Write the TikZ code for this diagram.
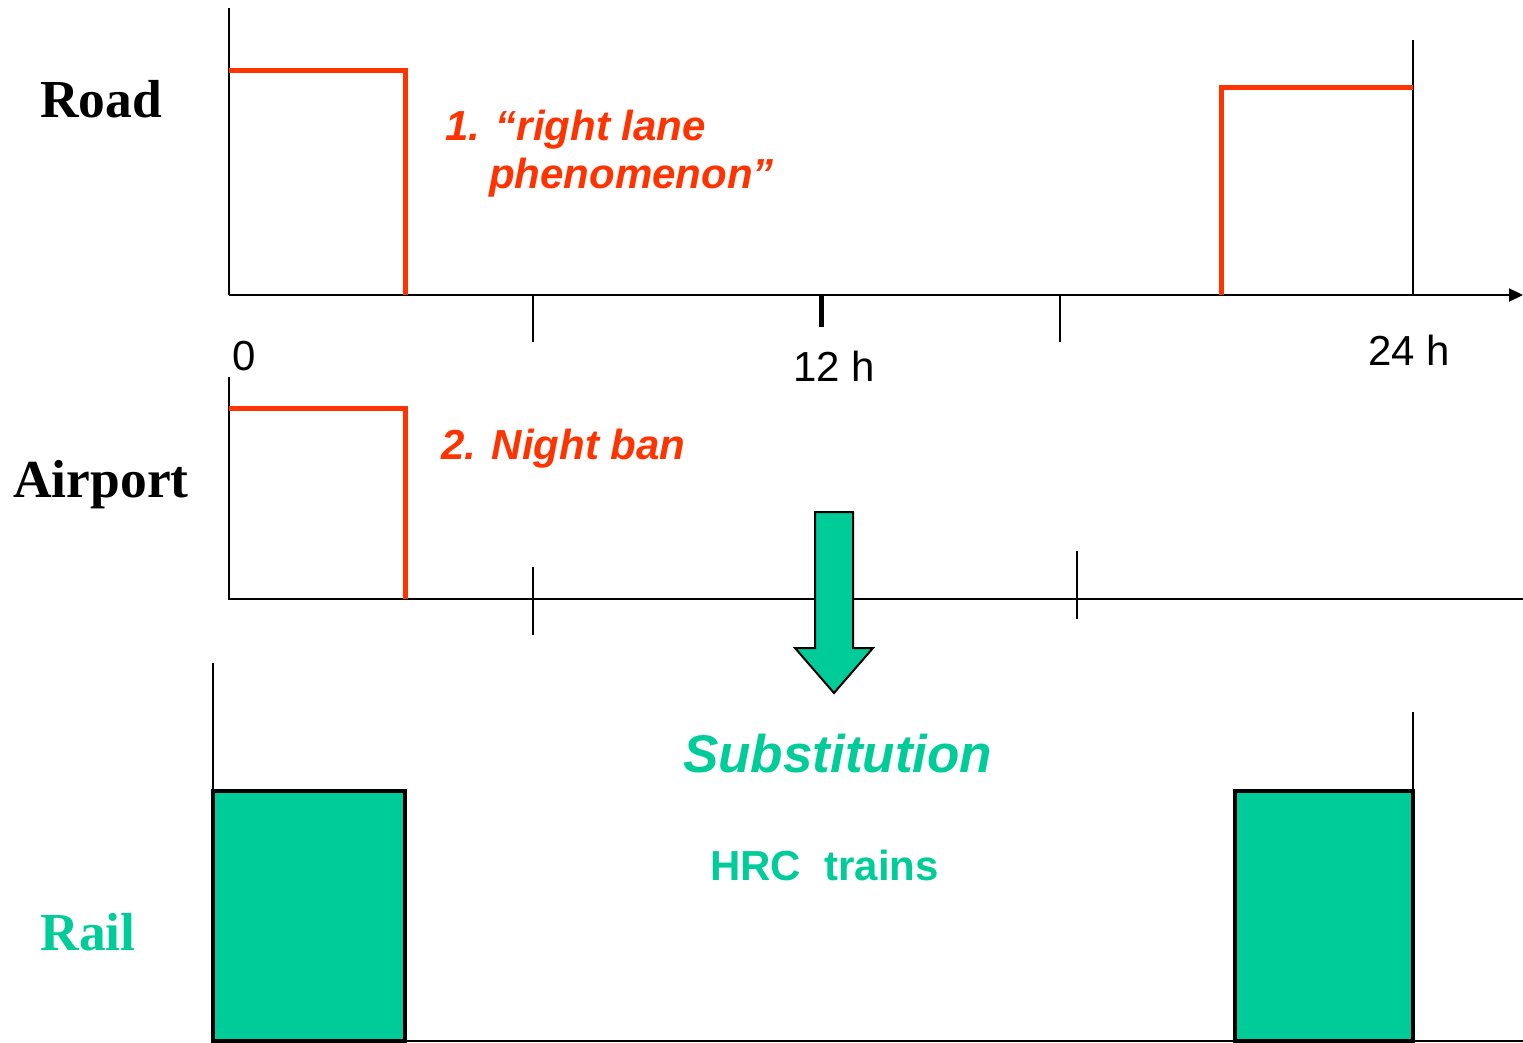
\documentclass[tikz,border=0pt]{standalone}
\usepackage{fontspec}
\setmainfont{Liberation Serif}
\setsansfont{Liberation Sans}
\usetikzlibrary{arrows.meta}
\definecolor{warnred}{HTML}{FF3300}
\definecolor{railgreen}{HTML}{00CC99}
\begin{document}
\begin{tikzpicture}[x=1pt,y=-1pt,
  axis/.style={black,line width=2pt},
  tick/.style={black,line width=2pt},
  profile/.style={warnred,line width=5pt},
  railbox/.style={fill=railgreen,draw=black,line width=4.5pt},
  modelabel/.style={font=\fontsize{53.5}{64}\selectfont\bfseries,inner sep=0pt,anchor=base},
  hourlabel/.style={font=\sffamily\fontsize{42}{50}\selectfont,inner sep=0pt,anchor=base},
  redlabel/.style={font=\sffamily\fontsize{42}{50}\selectfont\bfseries\itshape,text=warnred,inner sep=0pt,anchor=base west},
  greenlabel/.style={font=\sffamily\bfseries,text=railgreen,inner sep=0pt,anchor=base west}]
\useasboundingbox (0,0) rectangle (1523,1043);

% ---------- Road ----------
\coordinate (r0) at (229,295);
\coordinate (rtop) at (229,8);
\coordinate (rend) at (1523,295);
\draw[axis] (rtop) -- (r0);
\draw[axis,-{Triangle[length=14pt,width=13pt]}] (r0) -- (rend);
\draw[tick] (533,295) -- (533,342);
\draw[black,line width=5pt] (821,295) -- (821,327);
\draw[tick] (1060,295) -- (1060,342);
\draw[tick] (1413,40) -- (1413,295);
\draw[profile] (229,71) -- (405,71) -- (405,295);
\draw[profile] (1221,295) -- (1221,88) -- (1413,88);

\node[modelabel] (road) at (101,118) {Road};
\node[hourlabel] (h0) at (244,370) {0};
\node[hourlabel] (h12) at (834,381) {12 h};
\node[hourlabel] (h24) at (1409,365) {24 h};
\node[redlabel] (lane1) at (445,141) {1. “right lane};
\node[redlabel] (lane2) at (489,189) {phenomenon”};

% ---------- Airport ----------
\coordinate (a0) at (229,599);
\draw[axis] (229,377) -- (a0) -- (1523,599);
\draw[tick] (533,567) -- (533,635);
\draw[tick] (1077,551) -- (1077,619);
\draw[profile] (229,408) -- (405,408) -- (405,599);
\node[modelabel] (airport) at (101,497) {Airport};
\node[redlabel] (ban) at (441,459) {2. Night ban};

% ---------- Substitution arrow ----------
\draw[fill=railgreen,draw=black,line width=2pt,line join=miter]
  (815,512) -- (853,512) -- (853,648) -- (873,648) -- (834,693)
  -- (795,648) -- (815,648) -- cycle;

% ---------- Rail ----------
\draw[tick] (213,663) -- (213,791);
\draw[tick] (1413,712) -- (1413,791);
\draw[axis] (213,1041) -- (1523,1041);
\draw[railbox] (213,791) rectangle (405,1041);
\draw[railbox] (1235,791) rectangle (1413,1041);
\node[modelabel,text=railgreen] (rail) at (88,950) {Rail};
\node[greenlabel,font=\sffamily\fontsize{53}{62}\selectfont\bfseries\itshape] (subst) at (683,772) {Substitution};
\node[greenlabel,font=\sffamily\fontsize{42}{50}\selectfont\bfseries] (hrc) at (710,880) {HRC\ \ trains};
\end{tikzpicture}
\end{document}
